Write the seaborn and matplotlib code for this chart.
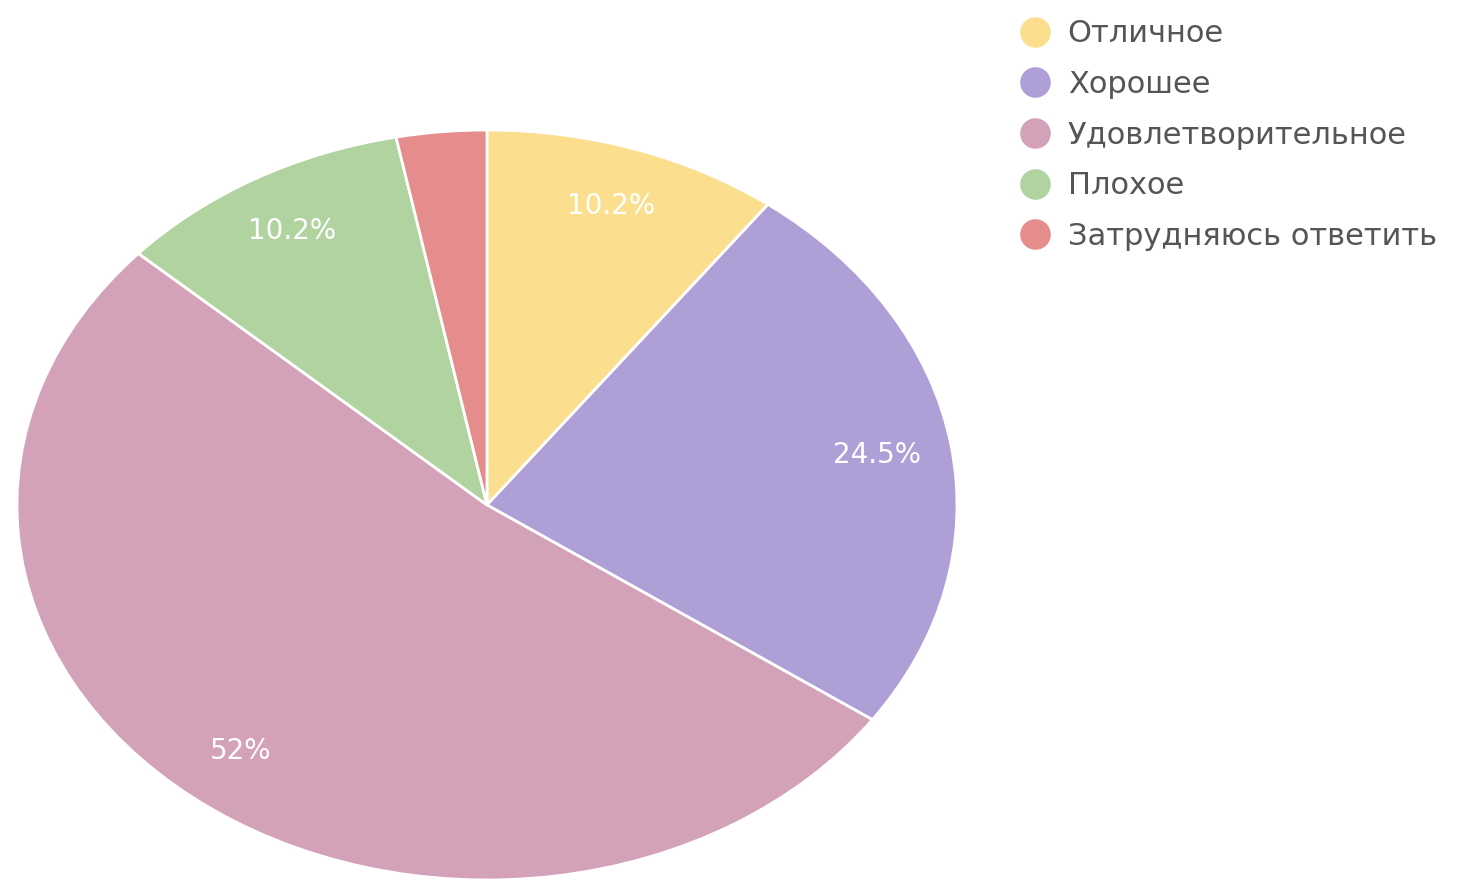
import matplotlib.pyplot as plt
from matplotlib.lines import Line2D
import seaborn as sns

# ratings and shares (%)
categories = ["Отличное", "Хорошее", "Удовлетворительное", "Плохое", "Затрудняюсь ответить"]
shares = [10.2, 24.5, 52.0, 10.2, 3.1]
colors = ["#FBDF8E", "#AE9FD6", "#D4A2B8", "#B1D3A0", "#E58C8C"]

sns.set_theme(style="white")
plt.rcParams["font.family"] = ["DejaVu Sans"]

fig = plt.figure(figsize=(14.71, 8.81), dpi=100)
# the original pie is stretched into an ellipse, so the axes are not square
ax = fig.add_axes([17 / 1471, 1 / 881, 940 / 1471, 750 / 881])


def pct_label(pct):
    # the tiny slice has no label in the original
    if pct < 5:
        return ""
    return f"{round(pct, 1):g}%"


wedges, texts, autotexts = ax.pie(
    shares,
    colors=colors,
    startangle=90,
    counterclock=False,
    autopct=pct_label,
    pctdistance=0.84,
    wedgeprops=dict(edgecolor="white", linewidth=2),
    textprops=dict(color="white", fontsize=20),
)
ax.set_aspect("auto")
ax.set_xlim(-1.0, 1.0)
ax.set_ylim(-1.0, 1.0)

handles = [
    Line2D([0], [0], marker="o", linestyle="", markersize=21,
           markerfacecolor=c, markeredgecolor=c)
    for c in colors
]
leg = fig.legend(
    handles, categories,
    loc="upper left",
    bbox_to_anchor=(1001 / 1471, 1 - 4 / 881),
    frameon=False,
    fontsize=22,
    handletextpad=0.48,
    handlelength=1.2,
    labelspacing=0.71,
    borderpad=0,
)
for t in leg.get_texts():
    t.set_color("#555555")

fig.savefig("out.png", dpi=100)
